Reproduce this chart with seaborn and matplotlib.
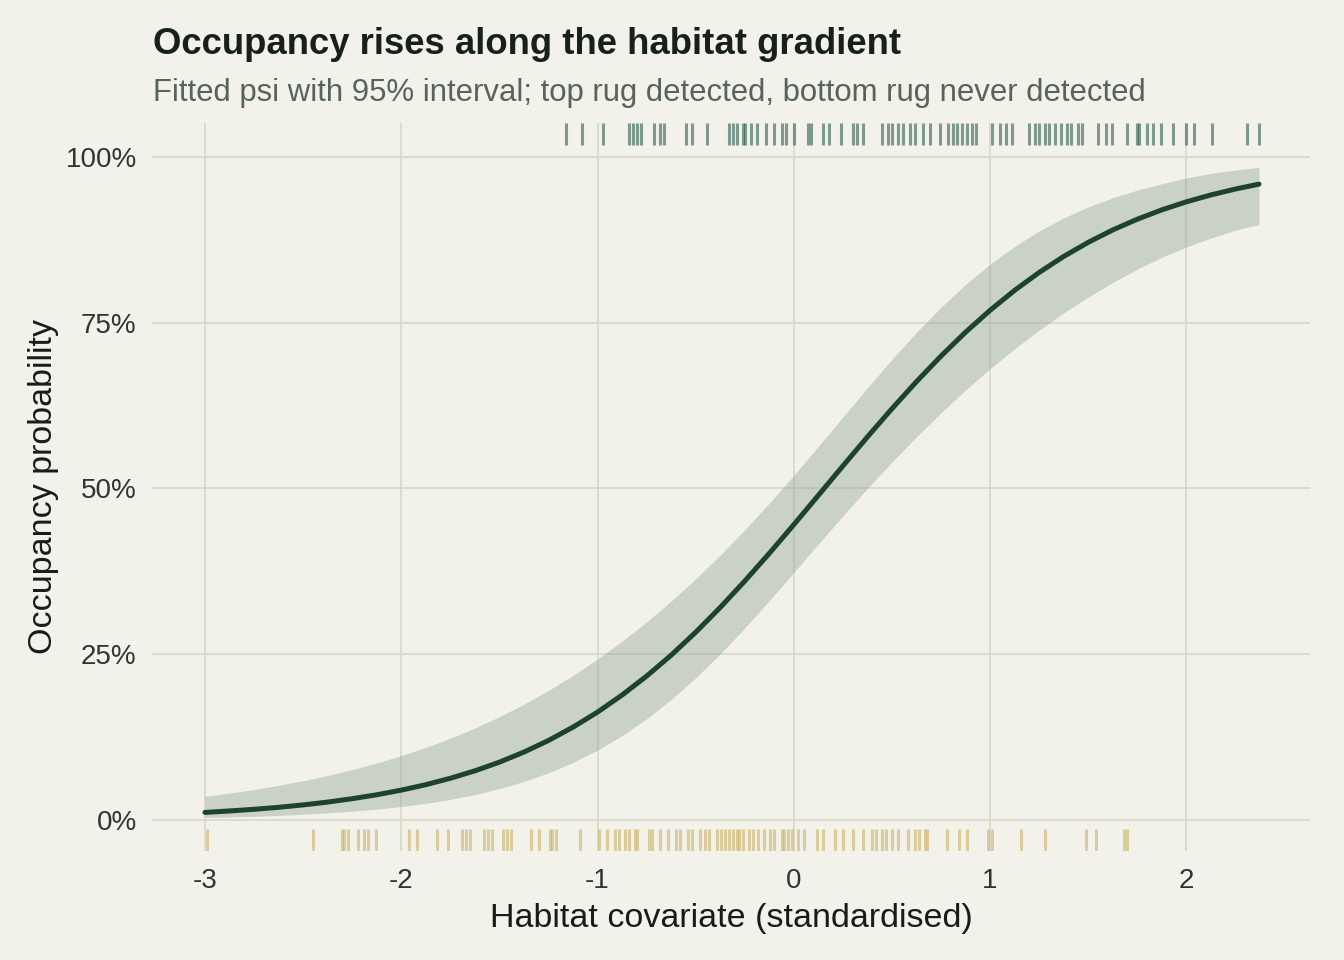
import numpy as np
import pandas as pd
import matplotlib
matplotlib.use("Agg")
import matplotlib.pyplot as plt
import matplotlib.transforms as mtransforms
from matplotlib.ticker import FuncFormatter
import seaborn as sns

# ---- data ----
x_grid = [-3.0, -2.875, -2.75, -2.625, -2.5, -2.375, -2.25, -2.125, -2.0, -1.875, -1.75,
          -1.625, -1.5, -1.375, -1.25, -1.125, -1.0, -0.875, -0.75, -0.625, -0.5, -0.375,
          -0.25, -0.125, 0.0, 0.125, 0.25, 0.375, 0.5, 0.625, 0.75, 0.875, 1.0, 1.125,
          1.25, 1.375, 1.5, 1.625, 1.75, 1.875, 2.0, 2.125, 2.25, 2.37]
psi = [0.0112, 0.0134, 0.0159, 0.0189, 0.0225, 0.0268, 0.0319, 0.0378, 0.0448, 0.0530,
       0.0627, 0.0739, 0.0870, 0.1022, 0.1197, 0.1398, 0.1625, 0.1882, 0.2168, 0.2483,
       0.2829, 0.3203, 0.3601, 0.4019, 0.4452, 0.4894, 0.5337, 0.5775, 0.6201, 0.6609,
       0.6995, 0.7355, 0.7685, 0.7986, 0.8256, 0.8497, 0.8710, 0.8897, 0.9059, 0.9200,
       0.9321, 0.9425, 0.9514, 0.9588]
psi_lo = [0.0035, 0.0043, 0.0054, 0.0067, 0.0084, 0.0105, 0.0130, 0.0162, 0.0201, 0.0249,
          0.0309, 0.0381, 0.0471, 0.0579, 0.0709, 0.0866, 0.1051, 0.1270, 0.1524, 0.1815,
          0.2142, 0.2503, 0.2894, 0.3306, 0.3731, 0.4160, 0.4584, 0.4998, 0.5396, 0.5778,
          0.6140, 0.6482, 0.6804, 0.7106, 0.7386, 0.7646, 0.7886, 0.8105, 0.8306, 0.8485,
          0.8640, 0.8775, 0.8895, 0.8980]
psi_hi = [0.0355, 0.0404, 0.0457, 0.0520, 0.0590, 0.0668, 0.0757, 0.0857, 0.0968, 0.1092,
          0.1231, 0.1385, 0.1555, 0.1744, 0.1952, 0.2178, 0.2426, 0.2694, 0.2985, 0.3299,
          0.3635, 0.3993, 0.4374, 0.4776, 0.5197, 0.5632, 0.6075, 0.6516, 0.6945, 0.7352,
          0.7731, 0.8075, 0.8381, 0.8650, 0.8881, 0.9078, 0.9244, 0.9383, 0.9498, 0.9593,
          0.9680, 0.9750, 0.9800, 0.9840]

detected_x = [-1.16, -1.08, -0.97, -0.84, -0.82, -0.80, -0.78, -0.71, -0.68, -0.66, -0.55,
              -0.52, -0.44, -0.33, -0.31, -0.29, -0.26, -0.25, -0.22, -0.19, -0.14, -0.10,
              -0.06, -0.04, 0.00, 0.07, 0.09, 0.15, 0.18, 0.24, 0.30, 0.32, 0.35, 0.45,
              0.48, 0.50, 0.53, 0.555, 0.59, 0.616, 0.657, 0.692, 0.743, 0.784, 0.81,
              0.83, 0.855, 0.88, 0.906, 0.93, 1.01, 1.05, 1.08, 1.11, 1.20, 1.23, 1.25,
              1.28, 1.30, 1.33, 1.36, 1.39, 1.41, 1.45, 1.47, 1.55, 1.59, 1.62, 1.70,
              1.75, 1.76, 1.80, 1.83, 1.87, 1.93, 2.00, 2.04, 2.13, 2.31, 2.37]
undetected_x = [-2.99, -2.45, -2.30, -2.29, -2.27, -2.22, -2.19, -2.17, -2.13, -1.96, -1.92,
                -1.82, -1.76, -1.69, -1.67, -1.65, -1.58, -1.56, -1.54, -1.48, -1.46, -1.44,
                -1.34, -1.30, -1.24, -1.23, -1.21, -1.09, -0.99, -0.95, -0.91, -0.89, -0.86,
                -0.84, -0.81, -0.80, -0.74, -0.72, -0.68, -0.64, -0.60, -0.58, -0.54, -0.52,
                -0.48, -0.45, -0.43, -0.39, -0.37, -0.35, -0.33, -0.31, -0.29, -0.28, -0.26,
                -0.23, -0.21, -0.18, -0.15, -0.12, -0.10, -0.06, -0.05, -0.03, -0.01, 0.02,
                0.05, 0.12, 0.15, 0.21, 0.25, 0.30, 0.35, 0.40, 0.42, 0.45, 0.47, 0.50,
                0.53, 0.58, 0.62, 0.64, 0.67, 0.68, 0.78, 0.84, 0.88, 0.99, 1.01, 1.16,
                1.28, 1.49, 1.54, 1.68, 1.70]

x_ticks = [-3, -2, -1, 0, 1, 2]
y_ticks = [0, 0.25, 0.5, 0.75, 1.0]

# ---- style ----
BG = "#f2f1ea"
GRID = "#d8d8c6"
DARK = "#1d4230"
GOLD = "#c8b05a"

sns.set_theme(style="white")
plt.rcParams["font.family"] = ["Liberation Sans", "DejaVu Sans"]

fig = plt.figure(figsize=(13.44, 9.6), dpi=100, facecolor=BG)
ax = fig.add_axes([152 / 1344, 1 - 851 / 960, (1310 - 152) / 1344, (851 - 123) / 960])
ax.set_facecolor(BG)

df = pd.DataFrame({"x": x_grid, "psi": psi, "lo": psi_lo, "hi": psi_hi})

ax.fill_between(df["x"], df["lo"], df["hi"], color="#93a596", alpha=0.42, linewidth=0, zorder=2)
sns.lineplot(data=df, x="x", y="psi", ax=ax, color=DARK, linewidth=3.6, zorder=3)

# bottom rug: never detected
sns.rugplot(x=undetected_x, ax=ax, height=0.03, color=GOLD, alpha=0.55, linewidth=2.2,
            expand_margins=False, zorder=2)
# top rug: detected
trans = mtransforms.blended_transform_factory(ax.transData, ax.transAxes)
ax.vlines(detected_x, 0.97, 1.0, transform=trans, color="#1f5444", alpha=0.55,
          linewidth=2.2, zorder=2)

ax.set_xlim(-3.27, 2.63)
ax.set_ylim(-0.047, 1.051)
ax.set_xticks(x_ticks)
ax.set_xticklabels([str(t) for t in x_ticks])
ax.set_yticks(y_ticks)
ax.yaxis.set_major_formatter(FuncFormatter(lambda v, p: f"{v * 100:.0f}%"))
ax.grid(True, color=GRID, linewidth=1.2, zorder=0)
ax.set_axisbelow(True)
for s in ax.spines.values():
    s.set_visible(False)
ax.tick_params(axis="both", length=0, labelsize=20, labelcolor="#333333")
ax.tick_params(axis="x", pad=12)
ax.tick_params(axis="y", pad=11)

ax.set_xlabel("Habitat covariate (standardised)", fontsize=24.5, color="#1a1a1a", labelpad=7)
ax.set_ylabel("Occupancy probability", fontsize=24.5, color="#1a1a1a", labelpad=5)

fig.text(153 / 1344, 1 - 54 / 960, "Occupancy rises along the habitat gradient",
         fontsize=26.3, fontweight="bold", color="#17201b", va="baseline", ha="left")
fig.text(153 / 1344, 1 - 101 / 960,
         "Fitted psi with 95% interval; top rug detected, bottom rug never detected",
         fontsize=22.4, color="#56645b", va="baseline", ha="left")

fig.savefig("out.png", dpi=100, facecolor=BG)
